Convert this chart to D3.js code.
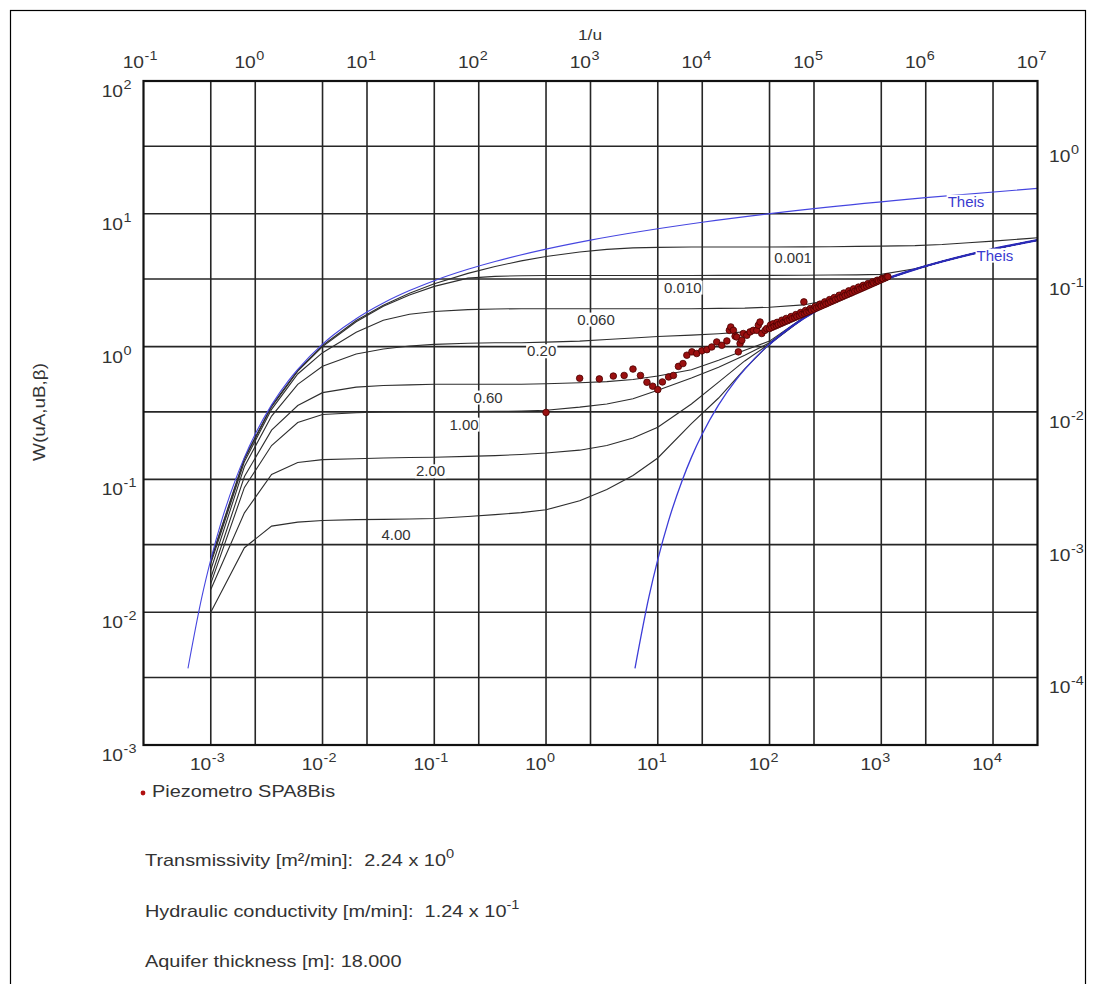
<!DOCTYPE html>
<html><head><meta charset="utf-8">
<script src="https://cdn.jsdelivr.net/npm/d3@7/dist/d3.min.js"></script>
<style>body{margin:0;background:#fff} text{font-family:"Liberation Sans",Arial,sans-serif;white-space:pre}</style>
</head><body>
<svg id="c" width="1093" height="984"></svg>
<script>
// ---------------- DATA ----------------
// top axis 1/u, left axis W ; bottom axis t (min), right axis s (m)
const topTickExp = [-1,0,1,2,3,4,5,6,7];
const bottomTickExp = [-3,-2,-1,0,1,2,3,4];
const leftTickExp = [2,1,0,-1,-2,-3];
const rightTickExp = [0,-1,-2,-3,-4];

// Theis curve W(u) against 1/u (type A, left)
const theisA_invU = [0.25,0.333,0.4,0.5,0.667,0.8,1,1.4,2,2.4,4,5,8,10,14,24,40,80,140,400,1000,1e4,1e5,1e6,1e7];
const theisA_W    = [0.00378,0.01305,0.0249,0.0489,0.1,0.1465,0.2194,0.364,0.5598,0.674,1.044,1.223,1.623,1.823,2.132,2.642,3.137,3.817,4.372,5.417,6.332,8.633,10.94,13.24,15.54];
// Theis curve against 1/uB (type B, right)
const theisB_invU = [2500,3333,4000,5000,6667,8000,1e4,1.4e4,2e4,2.4e4,4e4,5e4,8e4,1e5,1.4e5,2.4e5,4e5,8e5,1.4e6,4e6,1e7];
const theisB_W    = [0.00378,0.01305,0.0249,0.0489,0.1,0.1465,0.2194,0.364,0.5598,0.674,1.044,1.223,1.623,1.823,2.132,2.642,3.137,3.817,4.372,5.417,6.332];

// Neuman type curves W(uA,uB,beta) on a common 1/u grid
const invUGrid = [0.4,0.8,1.4,2.4,4,8,14,24,40,80,140,240,400,800,1400,2400,4000,8000,1.4e4,2.4e4,4e4,8e4,1.4e5,2.4e5,4e5,8e5,1.4e6,2.4e6,4e6,8e6,1e7];
const wBeta0001 = [0.0248,0.145,0.358,0.662,1.02,1.57,2.05,2.52,2.97,3.56,4.01,4.42,4.77,5.16,5.40,5.54,5.59,5.62,5.62,5.62,5.63,5.64,5.65,5.68,5.71,5.76,5.87,6.06,6.23,6.50,6.60];
const wBeta001  = [0.0243,0.142,0.352,0.653,1.00,1.54,2.01,2.45,2.84,3.28,3.38,3.42,3.43,3.43,3.43,3.43,3.43,3.43,3.44,3.44,3.44,3.45,3.46,3.47,3.50,3.86,4.39,4.92,5.42,6.11,6.34];
const wBeta006  = [0.0232,0.136,0.337,0.622,0.90,1.28,1.58,1.75,1.84,1.90,1.92,1.93,1.93,1.93,1.93,1.93,1.93,1.93,1.94,1.95,1.98,2.06,2.25,2.69,3.16,3.83,4.38,4.91,5.42,6.11,6.33];
const wBeta02   = [0.0208,0.125,0.30,0.52,0.71,0.88,0.96,1.01,1.04,1.06,1.07,1.07,1.08,1.10,1.13,1.16,1.19,1.22,1.25,1.29,1.34,1.70,2.17,2.66,3.14,3.82,4.37,4.91,5.42,6.11,6.33];
const wBeta06   = [0.0181,0.105,0.235,0.36,0.45,0.495,0.51,0.515,0.52,0.52,0.52,0.52,0.525,0.535,0.545,0.565,0.60,0.67,0.79,0.94,1.10,1.65,2.15,2.65,3.14,3.82,4.37,4.91,5.42,6.11,6.33];
const wBeta1    = [0.0164,0.087,0.18,0.268,0.308,0.318,0.322,0.324,0.324,0.324,0.325,0.327,0.332,0.35,0.37,0.405,0.47,0.58,0.70,0.86,1.07,1.64,2.14,2.65,3.14,3.82,4.37,4.91,5.42,6.11,6.33];
const wBeta2    = [0.0148,0.056,0.109,0.134,0.141,0.143,0.145,0.146,0.147,0.149,0.151,0.154,0.158,0.166,0.18,0.205,0.247,0.37,0.54,0.78,1.05,1.63,2.14,2.65,3.14,3.82,4.37,4.91,5.42,6.11,6.33];
const wBeta4    = [0.0100,0.0306,0.0445,0.0477,0.049,0.0498,0.0500,0.0503,0.0507,0.0525,0.0543,0.0562,0.059,0.069,0.084,0.107,0.145,0.263,0.41,0.68,1.045,1.625,2.133,2.643,3.137,3.817,4.372,4.908,5.417,6.109,6.332];

const betaNames  = ["0.001","0.010","0.060","0.20","0.60","1.00","2.00","4.00"];
const betaLabelX = [6.5e4,6.7e3,1.12e3,366,121,73.8,37.1,18.2];   // 1/u of label centre
const betaLabelW = [4.29,2.55,1.465,0.845,0.379,0.237,0.1055,0.0352]; // W of label baseline
const theisLabelX = [1.57e6,2.85e6];
const theisLabelW = [11.3,4.44];

// Observed data: Piezometro SPA8Bis, time (min) and drawdown (m)
const timeMin = [1.0,2.0,3.0,4.0,5.0,6.0,7.0,8.0,9.0,10,11,12.5,13.8,15.3,16.8,18.2,20.2,22.3,24.8,27.5,30.4,33.7,37.4,41.5,43.7,45,47.5,49.2,50.9,52.6,54.5,56.5,58.3,62.6,67,71.6,76.9,79.4,82.2,85.2,91.2,94.4,
 100,102,105,108,110,115,117,120,126,129,132,138,141,145,152,156,160,168,172,176,185,190,195,203,205,210,215,226,232,238,250,256,263,276,283,290,305,312,320,336,345,353,370,380,390,410,420,430,452,463,475,500,512,525,550,565,580,610,625,640,672,690,705,740,760,778,817,837,858,900,920,945,990,1015,1040,1090,1120,1146];
const drawdownM = [0.0099,0.0179,0.0177,0.0186,0.0188,0.0210,0.0188,0.0167,0.0156,0.0147,0.0168,0.0183,0.0188,0.0220,0.0231,0.0267,0.0283,0.0275,0.0288,0.0294,0.0308,0.0336,0.0317,0.0342,0.0411,0.0436,0.0411,0.0371,0.0366,0.0283,0.0327,0.0346,0.0389,0.0377,0.0400,0.0411,0.0411,0.0449,0.0475,0.0389,0.0411,0.0424,
 0.0424,0.0450,0.0432,0.0461,0.0440,0.0447,0.0472,0.0454,0.0462,0.0490,0.0470,0.0478,0.0505,0.0486,0.0495,0.0522,0.0504,0.0514,0.0540,0.0522,0.0532,0.0560,0.0542,0.0673,0.0552,0.0580,0.0562,0.0573,0.0600,0.0583,0.0594,0.0622,0.0605,0.0616,0.0647,0.0627,0.0639,0.0673,0.0650,0.0662,0.0700,0.0674,0.0686,0.0726,0.0699,0.0713,0.0755,0.0725,0.0738,0.0785,0.0752,0.0766,0.0815,0.0780,0.0793,0.0843,0.0809,0.0824,0.0870,0.0839,0.0854,0.0897,0.0869,0.0885,0.0925,0.0901,0.0918,0.0952,0.0935,0.0952,0.0980,0.0969,0.0986,0.1010,0.1004,0.1022,0.1040,0.1041];

const legendName = "Piezometro SPA8Bis";
const infoLines = [
  {text:"Transmissivity [m²/min]:  2.24 x 10", sup:"0"},
  {text:"Hydraulic conductivity [m/min]:  1.24 x 10", sup:"-1"},
  {text:"Aquifer thickness [m]: 18.000", sup:""}
];

// ---------------- DRAWING ----------------
const svg = d3.select('#c');
const L = 143.5, R = 1037.5, T = 81, B = 745;
const SX = 1.2;
const xTop = d3.scaleLog().domain([0.1, 1e7]).range([L, R]);
const xBot = d3.scaleLog().domain([2.5e-4, 2.5e4]).range([L, R]);
const yLeft = d3.scaleLog().domain([1e-3, 1e2]).range([B, T]);
const yRight = d3.scaleLog().domain([3.1e-5, 3.1]).range([B, T]);

svg.append('rect').attr('x',0).attr('y',0).attr('width',1093).attr('height',984).attr('fill','#fff');
svg.append('rect').attr('x',10.5).attr('y',10.5).attr('width',1075).attr('height',1000)
  .attr('fill','none').attr('stroke','#000').attr('stroke-width',1.2);

// grid
const grid = svg.append('g').attr('stroke','#262626').attr('stroke-width',1.6);
topTickExp.slice(1,-1).forEach(e => grid.append('line').attr('x1',xTop(10**e)).attr('x2',xTop(10**e)).attr('y1',T).attr('y2',B));
bottomTickExp.forEach(e => grid.append('line').attr('x1',xBot(10**e)).attr('x2',xBot(10**e)).attr('y1',T).attr('y2',B));
leftTickExp.slice(1,-1).forEach(e => grid.append('line').attr('y1',yLeft(10**e)).attr('y2',yLeft(10**e)).attr('x1',L).attr('x2',R));
rightTickExp.forEach(e => grid.append('line').attr('y1',yRight(10**e)).attr('y2',yRight(10**e)).attr('x1',L).attr('x2',R));

// curves
const lineLin = d3.line().x(d=>xTop(d[0])).y(d=>yLeft(d[1]));
const lineSmooth = d3.line().x(d=>xTop(d[0])).y(d=>yLeft(d[1])).curve(d3.curveMonotoneX);
const betaSeries = [wBeta0001,wBeta001,wBeta006,wBeta02,wBeta06,wBeta1,wBeta2,wBeta4];
const cg = svg.append('g');
betaSeries.forEach(ws => {
  cg.append('path').attr('d', lineLin(invUGrid.map((x,i)=>[x, ws[i]])))
    .attr('fill','none').attr('stroke','#2e2e2e').attr('stroke-width',1.1);
});
cg.append('path').attr('d', lineSmooth(theisA_invU.map((x,i)=>[x,theisA_W[i]])))
  .attr('fill','none').attr('stroke','#4646e0').attr('stroke-width',1.1);
cg.append('path').attr('d', lineSmooth(theisB_invU.map((x,i)=>[x,theisB_W[i]])))
  .attr('fill','none').attr('stroke','#3c3cd8').attr('stroke-width',1.3);
// emphasised upper part of type-B Theis curve
cg.append('path').attr('d', lineSmooth(theisB_invU.map((x,i)=>[x,theisB_W[i]]).filter(d=>d[0]>=4e4)))
  .attr('fill','none').attr('stroke','#2a2ab8').attr('stroke-width',2.2);

// curve labels with white background
function curveLabel(x, y, str, color, anchor) {
  const t = svg.append('text').attr('x',x).attr('y',y).attr('font-size',15)
    .attr('fill',color).attr('text-anchor',anchor).text(str);
  const bb = t.node().getBBox();
  svg.insert('rect', () => t.node()).attr('x',bb.x-1).attr('y',bb.y+2).attr('width',bb.width+2).attr('height',bb.height-3).attr('fill','#fff');
}
betaNames.forEach((n,i)=> curveLabel(xTop(betaLabelX[i]), yLeft(betaLabelW[i]), n, '#333', 'middle'));
theisLabelX.forEach((x,i)=> curveLabel(xTop(x), yLeft(theisLabelW[i]), 'Theis', '#3a3ad0', 'start'));

// data points
svg.append('g').selectAll('circle').data(timeMin.map((t,i)=>[t,drawdownM[i]])).join('circle')
  .attr('cx',d=>xBot(d[0])).attr('cy',d=>yRight(d[1])).attr('r',3.3)
  .attr('fill','#9a1010').attr('stroke','#4a0000').attr('stroke-width',0.8);

// frame
svg.append('rect').attr('x',L).attr('y',T).attr('width',R-L).attr('height',B-T)
  .attr('fill','none').attr('stroke','#111').attr('stroke-width',2.2);

// power-of-ten labels
function powLabel(x, y, exp, mode) {
  const g = svg.append('g').attr('transform',`translate(${x},${y}) scale(${SX},1)`);
  const base = g.append('text').attr('font-size',16).attr('fill','#333').text('10');
  const w = base.node().getComputedTextLength();
  const x0 = mode === 'end' ? -w : 0;
  base.attr('x', x0);
  g.append('text').attr('x', x0 + w + 0.5).attr('y',-8).attr('font-size',12).attr('fill','#333').text(String(exp));
}
topTickExp.forEach(e => powLabel(xTop(10**e)+0.5, 68, e, 'end'));
bottomTickExp.forEach(e => powLabel(xBot(10**e)+0.5, 770, e, 'end'));
leftTickExp.forEach(e => powLabel(123, yLeft(10**e)+16, e, 'end'));
rightTickExp.forEach(e => powLabel(1049, yRight(10**e)+16, e, 'start'));

// axis titles
svg.append('g').attr('transform','translate(590,40) scale(1.15,1)')
  .append('text').attr('text-anchor','middle').attr('font-size',15).attr('fill','#333').text('1/u');
svg.append('g').attr('transform','translate(45,412) rotate(-90) scale(1.18,1)')
  .append('text').attr('text-anchor','middle').attr('font-size',16).attr('fill','#333').text('W(uA,uB,β)');

// legend
svg.append('circle').attr('cx',143).attr('cy',793).attr('r',2.4).attr('fill','#b01010');
svg.append('g').attr('transform','translate(152,797) scale(1.17,1)')
  .append('text').attr('font-size',17).attr('fill','#333').text(legendName);

// info text
const infoY = [866, 917, 967];
infoLines.forEach((ln,i) => {
  const t = svg.append('g').attr('transform',`translate(145,${infoY[i]}) scale(1.17,1)`)
    .append('text').attr('font-size',17).attr('fill','#333');
  t.append('tspan').text(ln.text);
  if (ln.sup) t.append('tspan').attr('dy',-8).attr('font-size',12.5).text(ln.sup);
});
</script>
</body></html>
